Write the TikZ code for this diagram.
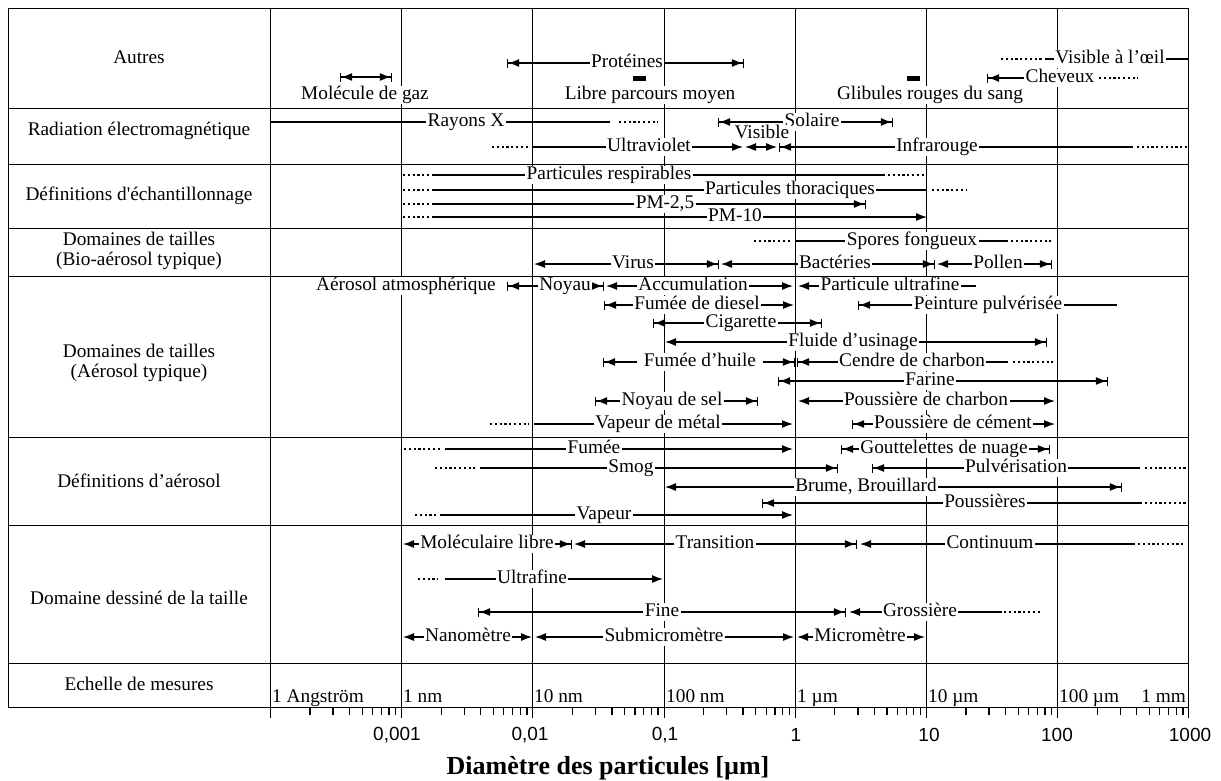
\documentclass[tikz,border=0pt]{standalone}
\usepackage{fontspec}
\setmainfont{Liberation Serif}
\newfontfamily\numfont{Liberation Sans}
\usetikzlibrary{arrows.meta}
\newcommand{\chartfont}{\fontsize{19.3}{20}\selectfont}

\begin{document}
\begin{tikzpicture}[x=1pt, y=-1pt,
    tabline/.style={line width=1.3pt},
    rng/.style={line width=1.2pt},
    dots/.style={line width=2.2pt, dash pattern=on 2.2pt off 2.6pt},
    lbl/.style={fill=white, inner xsep=1.5pt, inner ysep=0pt, text height=13.5pt, text depth=4pt, font=\chartfont},
    rowlbl/.style={align=center, font=\chartfont},
    unitlbl/.style={font=\chartfont, inner sep=0pt},
    numlbl/.style={font=\numfont\fontsize{19}{20}\selectfont},
    blob/.style={fill=black, inner sep=0pt, minimum width=13pt, minimum height=5pt},
    bb/.style={{Bar[width=9pt] Latex[length=11pt,width=8pt]}-{Latex[length=11pt,width=8pt] Bar[width=9pt]}},
    bt/.style={{Bar[width=9pt] Latex[length=11pt,width=8pt]}-{Latex[length=11pt,width=8pt]}},
    tb/.style={{Latex[length=11pt,width=8pt]}-{Latex[length=11pt,width=8pt] Bar[width=9pt]}},
    tt/.style={{Latex[length=11pt,width=8pt]}-{Latex[length=11pt,width=8pt]}},
    bn/.style={{Bar[width=9pt] Latex[length=11pt,width=8pt]}-},
    nb/.style={-{Latex[length=11pt,width=8pt] Bar[width=9pt]}},
    tn/.style={{Latex[length=11pt,width=8pt]}-},
    nt/.style={-{Latex[length=11pt,width=8pt]}}
]
    \useasboundingbox (0,0) rectangle (1221,780);
    \fill[white] (0,0) rectangle (1221,780);

    % Table
    \draw[tabline] (8.5,8.5) rectangle (1188.5,707.5);
    \foreach \y in {108.5,164.5,228.5,276.5,437.5,525.5,663.5}
        \draw[tabline] (8.5,\y) -- (1188.5,\y);
    \foreach \x in {270.5,401.5,532.5,664.5,795.5,926.5,1057.5}
        \draw[tabline] (\x,8.5) -- (\x,707.5);

    % Ticks
    \foreach \x in {270.5,401.5,532.5,664.5,795.5,926.5,1057.5,1188.5}
        \draw[tabline] (\x,707.5) -- ++(0,10);
    \foreach \k in {0,...,6}
        \foreach \m in {2,...,9}
            \draw[tabline] ({270.5+131.2*(\k+log10(\m))},707.5) -- ++(0,7);

    % Row titles
    \node[rowlbl] (autres) at (139,57) {Autres};
    \node[rowlbl] (radiation) at (139,131) {Radiation électromagnétique};
    \node[rowlbl] (echant) at (139,196) {Définitions d\textquotesingle échantillonnage};
    \node[rowlbl] (bio) at (139,251) {Domaines de tailles\\(Bio-aérosol typique)};
    \node[rowlbl] (typique) at (139,363) {Domaines de tailles\\(Aérosol typique)};
    \node[rowlbl] (aerosol) at (139,481) {Définitions d’aérosol};
    \node[rowlbl] (dessine) at (139,598) {Domaine dessiné de la taille};
    \node[rowlbl] (echelle) at (139,684) {Echelle de mesures};

    % Autres
    \coordinate (gaz-l) at (340,77); \coordinate (gaz-r) at (392,77);
    \draw[rng,bb] (gaz-l) -- (gaz-r);
    \node[lbl] (gaz) at (365,95) {Molécule de gaz};
    \coordinate (prot-l) at (507,63); \coordinate (prot-r) at (744,63);
    \draw[rng,bb] (prot-l) -- (prot-r);
    \node[lbl] (prot) at (627,63) {Protéines};
    \node[blob] (lpm-m) at (639.5,78.5) {};
    \node[lbl] (lpm) at (650,95) {Libre parcours moyen};
    \node[blob] (sang-m) at (913,78.5) {};
    \node[lbl] (sang) at (930,95) {Glibules rouges du sang};
    \coordinate (oeil-d) at (1001,59); \coordinate (oeil-l) at (1045,59); \coordinate (oeil-r) at (1188.5,59);
    \draw[dots] (oeil-d) -- (1042,59);
    \draw[rng] (oeil-l) -- (oeil-r);
    \node[lbl] (oeil) at (1110,59) {Visible à l’œil};
    \coordinate (chev-l) at (987,78); \coordinate (chev-r) at (1096,78); \coordinate (chev-d) at (1138,78);
    \draw[rng,bn] (chev-l) -- (chev-r);
    \draw[dots] (1099,78) -- (chev-d);
    \node[lbl] (chev) at (1060,78) {Cheveux};

    % Radiation electromagnetique
    \coordinate (rx-l) at (270.5,122); \coordinate (rx-r) at (610,122); \coordinate (rx-d) at (658,122);
    \draw[rng] (rx-l) -- (rx-r);
    \draw[dots] (619,122) -- (rx-d);
    \node[lbl] (rx) at (466,122) {Rayons X};
    \coordinate (sol-l) at (718,122); \coordinate (sol-r) at (893,122);
    \draw[rng,bb] (sol-l) -- (sol-r);
    \node[lbl] (sol) at (812,122) {Solaire};
    \coordinate (uv-d) at (492,147); \coordinate (uv-l) at (533,147); \coordinate (uv-r) at (743,147);
    \draw[dots] (uv-d) -- (530,147);
    \draw[rng,nt] (uv-l) -- (uv-r);
    \node[lbl] (uv) at (649,147) {Ultraviolet};
    \coordinate (vis-l) at (745,147); \coordinate (vis-r) at (777,147);
    \draw[rng,tt] (vis-l) -- (vis-r);
    \node[lbl] (vis) at (762,134) {Visible};
    \coordinate (ir-l) at (779,147); \coordinate (ir-r) at (1133,147); \coordinate (ir-d) at (1187,147);
    \draw[rng,bn] (ir-l) -- (ir-r);
    \draw[dots] (1137,147) -- (ir-d);
    \node[lbl] (ir) at (937,147) {Infrarouge};

    % Definitions d'echantillonnage
    \foreach \y in {175,190,204,217}
        \draw[dots] (403,\y) -- (429,\y);
    \coordinate (resp-l) at (432,175); \coordinate (resp-r) at (885,175); \coordinate (resp-d) at (926,175);
    \draw[rng] (resp-l) -- (resp-r);
    \draw[dots] (888,175) -- (resp-d);
    \node[lbl] (resp) at (609,175) {Particules respirables};
    \coordinate (thor-l) at (432,190); \coordinate (thor-r) at (927,190); \coordinate (thor-d) at (967,190);
    \draw[rng] (thor-l) -- (thor-r);
    \draw[dots] (932,190) -- (thor-d);
    \node[lbl] (thor) at (790,190) {Particules thoraciques};
    \coordinate (pm25-l) at (432,204); \coordinate (pm25-r) at (866,204);
    \draw[rng,nb] (pm25-l) -- (pm25-r);
    \node[lbl] (pm25) at (665,204) {PM-2,5};
    \coordinate (pm10-l) at (432,217); \coordinate (pm10-r) at (927,217);
    \draw[rng,nt] (pm10-l) -- (pm10-r);
    \node[lbl] (pm10) at (735,217) {PM-10};

    % Bio-aerosol
    \coordinate (spor-d) at (754,241); \coordinate (spor-l) at (796,241); \coordinate (spor-r) at (1008,241); \coordinate (spor-e) at (1051,241);
    \draw[dots] (spor-d) -- (791,241);
    \draw[rng] (spor-l) -- (spor-r);
    \draw[dots] (1011,241) -- (spor-e);
    \node[lbl] (spor) at (912,241) {Spores fongueux};
    \coordinate (vir-l) at (534,264); \coordinate (vir-r) at (719,264);
    \draw[rng,tb] (vir-l) -- (vir-r);
    \node[lbl] (vir) at (633,264) {Virus};
    \coordinate (bac-l) at (721,264); \coordinate (bac-r) at (935,264);
    \draw[rng,tb] (bac-l) -- (bac-r);
    \node[lbl] (bac) at (835,264) {Bactéries};
    \coordinate (pol-l) at (937,264); \coordinate (pol-r) at (1052,264);
    \draw[rng,tb] (pol-l) -- (pol-r);
    \node[lbl] (pol) at (998,264) {Pollen};

    % Aerosol typique
    \node[lbl] (atm) at (406,286) {Aérosol atmosphérique};
    \coordinate (noy-l) at (507,286); \coordinate (noy-r) at (604,286);
    \draw[rng,bb] (noy-l) -- (noy-r);
    \node[lbl] (noy) at (565,286) {Noyau};
    \coordinate (acc-l) at (606,286); \coordinate (acc-r) at (793,286);
    \draw[rng,tt] (acc-l) -- (acc-r);
    \node[lbl] (acc) at (693,286) {Accumulation};
    \coordinate (puf-l) at (798,286); \coordinate (puf-r) at (976,286);
    \draw[rng,tn] (puf-l) -- (puf-r);
    \node[lbl] (puf) at (890,286) {Particule ultrafine};
    \coordinate (die-l) at (604,305); \coordinate (die-r) at (794,305);
    \draw[rng,bt] (die-l) -- (die-r);
    \node[lbl] (die) at (697,305) {Fumée de diesel};
    \coordinate (pein-l) at (858,305); \coordinate (pein-r) at (1117,305);
    \draw[rng,bn] (pein-l) -- (pein-r);
    \node[lbl] (pein) at (988,305) {Peinture pulvérisée};
    \coordinate (cig-l) at (653,323); \coordinate (cig-r) at (822,323);
    \draw[rng,bb] (cig-l) -- (cig-r);
    \node[lbl] (cig) at (741,323) {Cigarette};
    \coordinate (flu-l) at (665,342); \coordinate (flu-r) at (1047,342);
    \draw[rng,tb] (flu-l) -- (flu-r);
    \node[lbl] (flu) at (853,342) {Fluide d’usinage};
    \coordinate (huil-l) at (603,362); \coordinate (huil-r) at (795,362);
    \draw[rng,bb] (huil-l) -- (huil-r);
    \node[lbl, inner xsep=7pt] (huil) at (700,362) {Fumée d’huile};
    \coordinate (cend-l) at (797,362); \coordinate (cend-r) at (1008,362); \coordinate (cend-d) at (1053,362);
    \draw[rng,bn] (cend-l) -- (cend-r);
    \draw[dots] (1013,362) -- (cend-d);
    \node[lbl] (cend) at (912,362) {Cendre de charbon};
    \coordinate (far-l) at (778,381); \coordinate (far-r) at (1108,381);
    \draw[rng,bb] (far-l) -- (far-r);
    \node[lbl] (far) at (930,381) {Farine};
    \coordinate (sel-l) at (595,401); \coordinate (sel-r) at (758,401);
    \draw[rng,bb] (sel-l) -- (sel-r);
    \node[lbl] (sel) at (672,401) {Noyau de sel};
    \coordinate (pch-l) at (798,401); \coordinate (pch-r) at (1055,401);
    \draw[rng,tt] (pch-l) -- (pch-r);
    \node[lbl] (pch) at (926,401) {Poussière de charbon};
    \coordinate (met-d) at (490,424); \coordinate (met-l) at (534,424); \coordinate (met-r) at (793,424);
    \draw[dots] (met-d) -- (529,424);
    \draw[rng,nt] (met-l) -- (met-r);
    \node[lbl] (met) at (658,424) {Vapeur de métal};
    \coordinate (cem-l) at (852,424); \coordinate (cem-r) at (1055,424);
    \draw[rng,bt] (cem-l) -- (cem-r);
    \node[lbl] (cem) at (953,424) {Poussière de cément};

    % Definitions d'aerosol
    \coordinate (fum-d) at (404,449); \coordinate (fum-l) at (445,449); \coordinate (fum-r) at (793,449);
    \draw[dots] (fum-d) -- (441,449);
    \draw[rng,nt] (fum-l) -- (fum-r);
    \node[lbl] (fum) at (594,449) {Fumée};
    \coordinate (gou-l) at (841,449); \coordinate (gou-r) at (1050,449);
    \draw[rng,bb] (gou-l) -- (gou-r);
    \node[lbl] (gou) at (944,449) {Gouttelettes de nuage};
    \coordinate (smog-d) at (435,468); \coordinate (smog-l) at (480,468); \coordinate (smog-r) at (838,468);
    \draw[dots] (smog-d) -- (475,468);
    \draw[rng,nb] (smog-l) -- (smog-r);
    \node[lbl] (smog) at (631,468) {Smog};
    \coordinate (pulv-l) at (872,468); \coordinate (pulv-r) at (1140,468); \coordinate (pulv-d) at (1186,468);
    \draw[rng,bn] (pulv-l) -- (pulv-r);
    \draw[dots] (1145,468) -- (pulv-d);
    \node[lbl] (pulv) at (1016,468) {Pulvérisation};
    \coordinate (brum-l) at (665,487); \coordinate (brum-r) at (1122,487);
    \draw[rng,tb] (brum-l) -- (brum-r);
    \node[lbl] (brum) at (866,487) {Brume, Brouillard};
    \coordinate (pous-l) at (762,503); \coordinate (pous-r) at (1142,503); \coordinate (pous-d) at (1186,503);
    \draw[rng,bn] (pous-l) -- (pous-r);
    \draw[dots] (1145,503) -- (pous-d);
    \node[lbl] (pous) at (985,503) {Poussières};
    \coordinate (vap-d) at (415,515); \coordinate (vap-l) at (440,515); \coordinate (vap-r) at (793,515);
    \draw[dots] (vap-d) -- (437,515);
    \draw[rng,nt] (vap-l) -- (vap-r);
    \node[lbl] (vap) at (604,515) {Vapeur};

    % Domaine dessine
    \coordinate (mol-l) at (403,544); \coordinate (mol-r) at (572,544);
    \draw[rng,tb] (mol-l) -- (mol-r);
    \node[lbl] (mol) at (487,544) {Moléculaire libre};
    \coordinate (tra-l) at (574,544); \coordinate (tra-r) at (857,544);
    \draw[rng,tb] (tra-l) -- (tra-r);
    \node[lbl] (tra) at (715,544) {Transition};
    \coordinate (con-l) at (860,544); \coordinate (con-r) at (1135,544); \coordinate (con-d) at (1186,544);
    \draw[rng,tn] (con-l) -- (con-r);
    \draw[dots] (1138,544) -- (con-d);
    \node[lbl] (con) at (990,544) {Continuum};
    \coordinate (ult-d) at (418,579); \coordinate (ult-l) at (445,579); \coordinate (ult-r) at (663,579);
    \draw[dots] (ult-d) -- (438,579);
    \draw[rng,nt] (ult-l) -- (ult-r);
    \node[lbl] (ult) at (532,579) {Ultrafine};
    \coordinate (fin-l) at (478,612); \coordinate (fin-r) at (846,612);
    \draw[rng,bb] (fin-l) -- (fin-r);
    \node[lbl] (fin) at (662,612) {Fine};
    \coordinate (gro-l) at (849,612); \coordinate (gro-r) at (1002,612); \coordinate (gro-d) at (1042,612);
    \draw[rng,tn] (gro-l) -- (gro-r);
    \draw[dots] (1004,612) -- (gro-d);
    \node[lbl] (gro) at (920,612) {Grossière};
    \coordinate (nan-l) at (403,637); \coordinate (nan-r) at (532,637);
    \draw[rng,tt] (nan-l) -- (nan-r);
    \node[lbl] (nan) at (468,637) {Nanomètre};
    \coordinate (sub-l) at (535,637); \coordinate (sub-r) at (794,637);
    \draw[rng,tt] (sub-l) -- (sub-r);
    \node[lbl] (sub) at (664,637) {Submicromètre};
    \coordinate (mic-l) at (797,637); \coordinate (mic-r) at (925,637);
    \draw[rng,tt] (mic-l) -- (mic-r);
    \node[lbl] (mic) at (860,637) {Micromètre};

    % Echelle de mesures
    \foreach \t/\x in {1 Angström/272,1 nm/403,10 nm/534,100 nm/666,1 µm/797,10 µm/928,100 µm/1059}
        \node[unitlbl, anchor=base west] at (\x,702) {\t};
    \node[unitlbl, anchor=base east] (unit-mm) at (1186,702) {1 mm};

    % Axis numbers
    \node[numlbl] (n3) at (397,735) {0,001};
    \node[numlbl] (n2) at (530,735) {0,01};
    \node[numlbl] (n1) at (665,735) {0,1};
    \node[numlbl] (n0) at (796,735) {1};
    \node[numlbl] (p1) at (929,735) {10};
    \node[numlbl] (p2) at (1057,735) {100};
    \node[numlbl] (p3) at (1190,735) {1000};
    \node[font=\bfseries\fontsize{26}{28}\selectfont] (axis) at (608,768) {Diamètre des particules [µm]};
\end{tikzpicture}
\end{document}
